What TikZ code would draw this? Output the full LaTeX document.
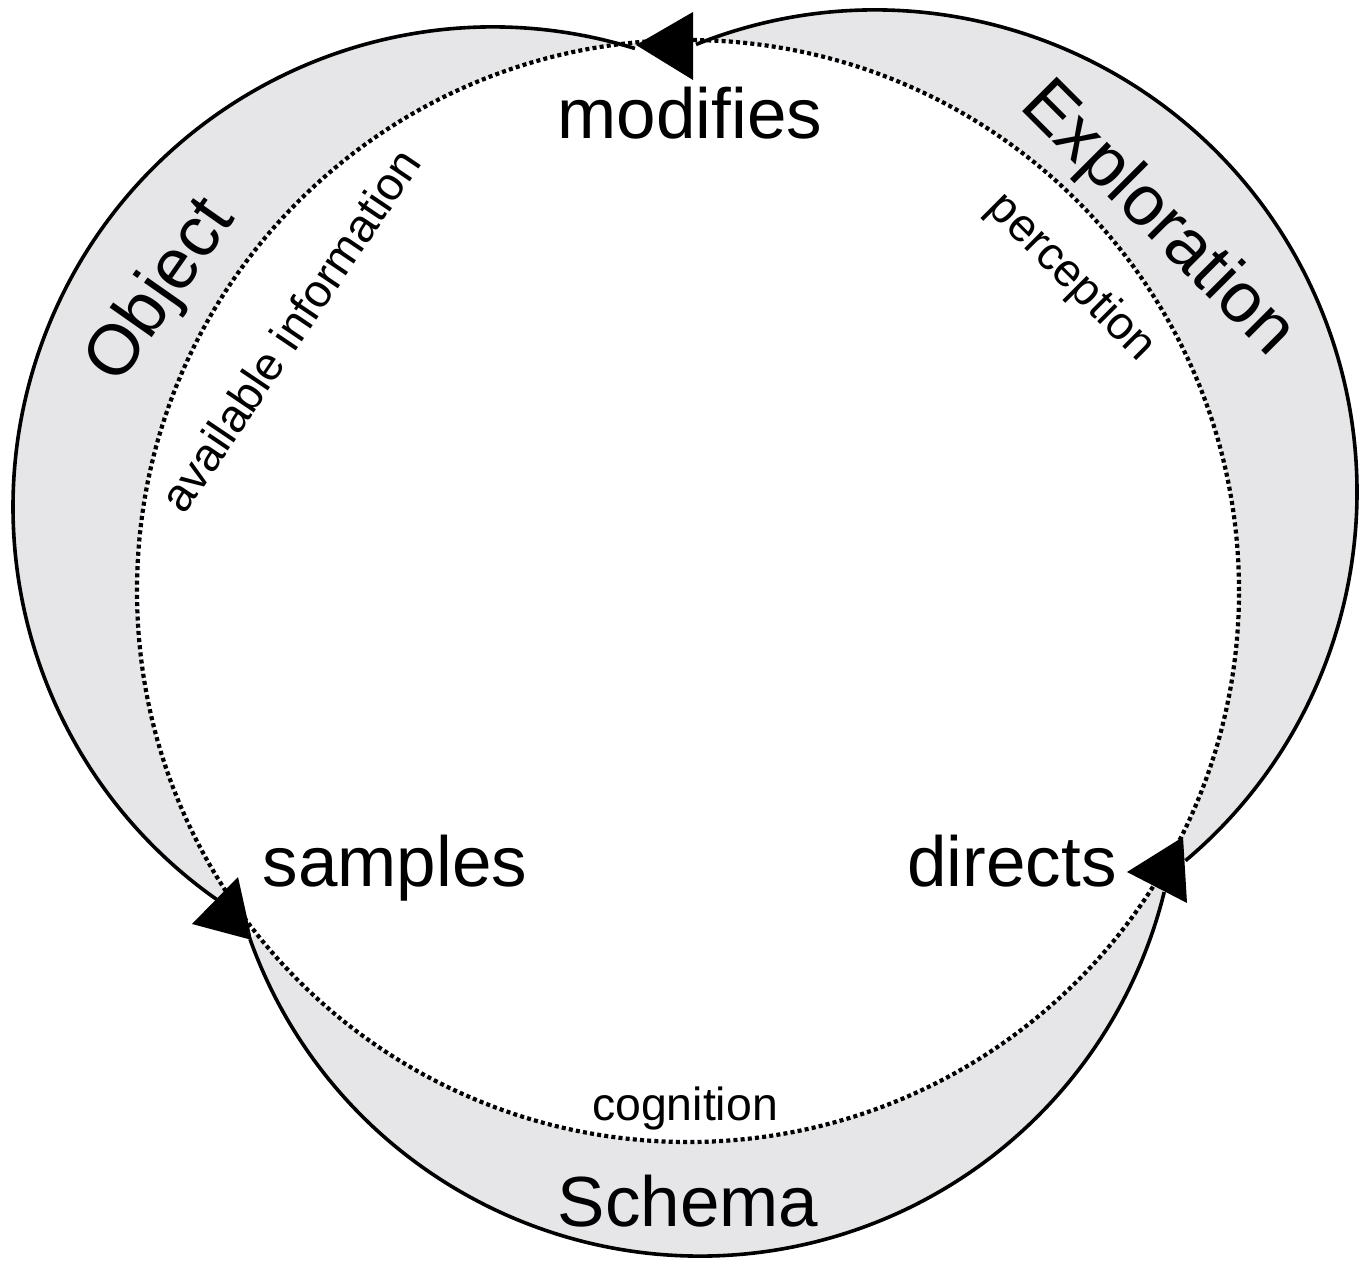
\documentclass[tikz,border=0pt]{standalone}
\usepackage{fontspec}
\setmainfont{Liberation Sans}
\usepackage{tikz}
\usetikzlibrary{calc}
\definecolor{lunegray}{RGB}{230,229,231}

\begin{document}
\begin{tikzpicture}[x=0.5pt, y=0.5pt,
  rim/.style={line width=1.8pt},
  dotrim/.style={line width=2.1pt, dash pattern=on 2pt off 1.6pt},
  lune/.style={fill=lunegray},
  bigword/.style={font=\fontsize{35.5}{40}\selectfont, inner sep=0pt},
  smallword/.style={font=\fontsize{23.2}{26}\selectfont, inner sep=0pt}]
  \useasboundingbox (0,0) rectangle (1364,1260);
  % centres: the cycle and its three lobes
  \coordinate (cyc) at (688,669);
  \coordinate (obj) at (493,753);
  \coordinate (expl) at (875,768);
  \coordinate (schem) at (700,482);
  % grey lunes
  \fill[lune] (obj) ++(72.8:480) arc[start angle=72.8, end angle=234.9, radius=480]
    -- ($(cyc)+(213:551)$) arc[start angle=213, end angle=95.4, radius=551] -- cycle;
  \fill[lune] (expl) ++(111.8:482) arc[start angle=111.8, end angle=-49.9, radius=482]
    -- ($(cyc)+(-28.4:551)$) arc[start angle=-28.4, end angle=89.3, radius=551] -- cycle;
  \fill[lune] (schem) ++(199.7:478) arc[start angle=199.7, end angle=346.2, radius=478]
    -- ($(cyc)+(327.8:551)$) arc[start angle=327.8, end angle=218.4, radius=551] -- cycle;
  % dotted cycle
  \draw[dotrim] (cyc) circle[radius=551];
  % outer rims
  \draw[rim] (obj) ++(72.8:480) arc[start angle=72.8, end angle=234.9, radius=480];
  \draw[rim] (expl) ++(111.8:482) arc[start angle=111.8, end angle=-49.9, radius=482];
  \draw[rim] (schem) ++(199.7:478) arc[start angle=199.7, end angle=346.2, radius=478];
  % arrow heads
  \fill (636,1215) -- (693,1248) -- (693,1180) -- cycle;
  \fill (1127,388) -- (1183,423) -- (1187,357) -- cycle;
  \fill (192,336) -- (238,383) -- (252,320) -- cycle;
  % labels
  \node[bigword, anchor=base] (modifies) at (690,1121) {modifies};
  \node[bigword, anchor=base] (samples) at (395,374) {samples};
  \node[bigword, anchor=base] (directs) at (1012,374) {directs};
  \node[bigword, anchor=base] (schema) at (688,34) {Schema};
  \node[bigword, rotate=55] (object) at (162,968) {Object};
  \node[bigword, rotate=-45] (exploration) at (1157,1040) {Exploration};
  \node[smallword, anchor=base] (cognition) at (685,140) {cognition};
  \node[smallword, rotate=56] (available) at (290,930) {available information};
  \node[smallword, rotate=-45] (perception) at (1071,982) {perception};
\end{tikzpicture}
\end{document}
